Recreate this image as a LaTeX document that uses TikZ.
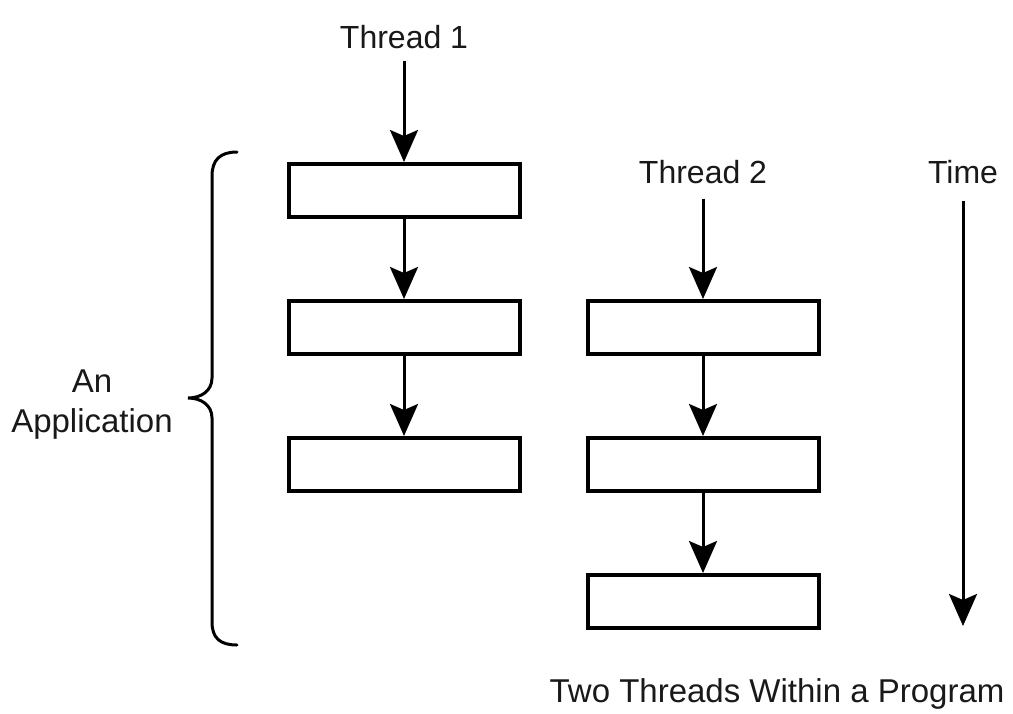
\documentclass[tikz,border=0pt]{standalone}
\usepackage{fontspec}
\setmainfont{Liberation Sans}
\usetikzlibrary{arrows.meta}
\begin{document}
\begin{tikzpicture}[x=1pt,y=-1pt,
  stepbox/.style={draw=black,line width=4pt,minimum width=231pt,minimum height=53pt,inner sep=0pt},
  lbl/.style={inner sep=0pt,anchor=base,text=black!90,font=\fontsize{32}{38}\selectfont},
  arr/.style={line width=3pt,-{Stealth[length=32pt,width=28pt,inset=6pt]}},
  brace/.style={line width=3pt,line cap=round}]
  \useasboundingbox (0,0) rectangle (1013,713);
  \fill[white] (0,0) rectangle (1013,713);

  % thread 1 column
  \node[stepbox] (a1) at (404,190.5) {};
  \node[stepbox] (a2) at (404,327.5) {};
  \node[stepbox] (a3) at (404,464.5) {};
  % thread 2 column
  \node[stepbox] (b1) at (703,327.5) {};
  \node[stepbox] (b2) at (703,464.5) {};
  \node[stepbox] (b3) at (703,601.5) {};

  \node[lbl] (t1) at (404,48) {Thread 1};
  \node[lbl] (t2) at (703,183) {Thread 2};
  \node[lbl] (tm) at (963,183) {Time};
  \coordinate (tmend) at (963,626);

  \draw[arr,shorten <=12pt] (t1.south) -- (a1.north);
  \draw[arr] (a1.south) -- (a2.north);
  \draw[arr] (a2.south) -- (a3.north);
  \draw[arr,shorten <=15pt] (t2.south) -- (b1.north);
  \draw[arr] (b1.south) -- (b2.north);
  \draw[arr] (b2.south) -- (b3.north);
  \draw[arr,shorten <=17pt] (tm.south) -- (tmend);

  % curly brace spanning the application
  \draw[brace] (237,152) .. controls (220,152) and (212,160) .. (212,176)
    -- (212,378) .. controls (212,391) and (201,398) .. (188,398)
    .. controls (201,398) and (212,405) .. (212,418)
    -- (212,622) .. controls (212,638) and (220,645) .. (237,645);

  \node[lbl,align=center,anchor=center,font=\fontsize{33}{40}\selectfont] (app) at (92,405) {An\\Application};
  \node[lbl,font=\fontsize{33}{38}\selectfont] (cap) at (777,702) {Two Threads Within a Program};
\end{tikzpicture}
\end{document}
